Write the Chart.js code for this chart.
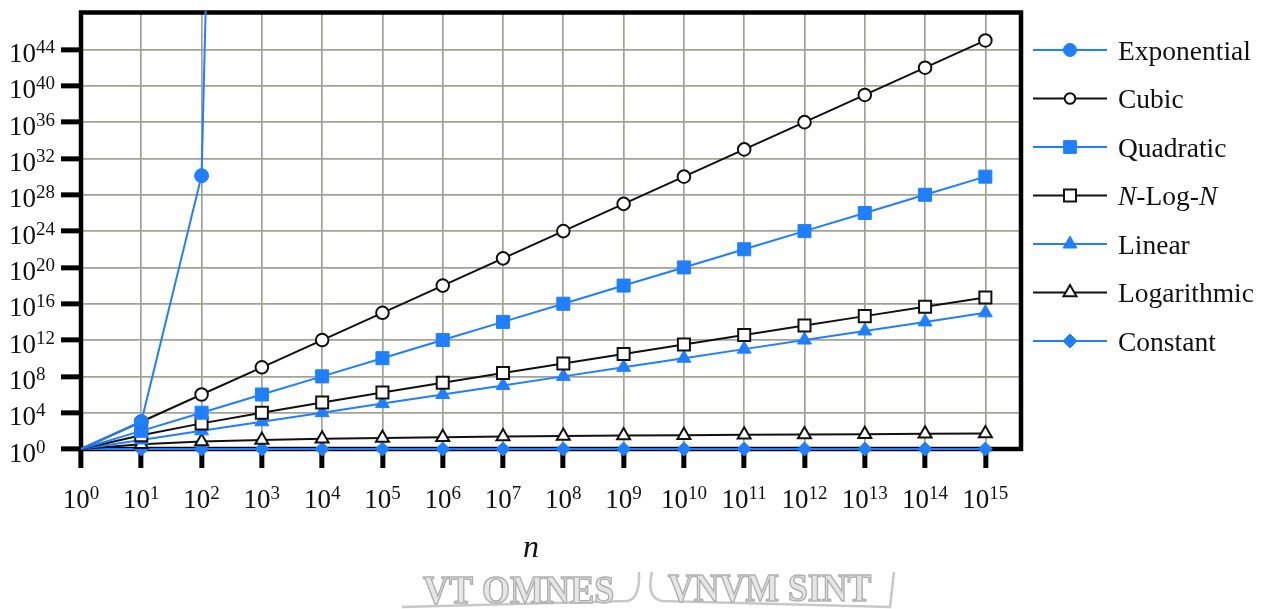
<!DOCTYPE html>
<html>
<head>
<meta charset="utf-8">
<script src="https://cdn.jsdelivr.net/npm/chart.js@4/dist/chart.umd.min.js"></script>
<style>
  html, body { margin: 0; padding: 0; background: #fff; }
  #wrap { width: 1261px; height: 609px; position: relative; }
</style>
</head>
<body>
<div id="wrap"><canvas id="growth" width="1261" height="609"></canvas></div>
<script>
// Problem sizes n (powers of ten)
const sizes = [1e0, 1e1, 1e2, 1e3, 1e4, 1e5, 1e6, 1e7, 1e8, 1e9, 1e10, 1e11, 1e12, 1e13, 1e14, 1e15];

// Operation counts for each growth class
const exponential = [1, 1024, 1.27e30, 1.07e301];
const cubic       = [1, 1e3, 1e6, 1e9, 1e12, 1e15, 1e18, 1e21, 1e24, 1e27, 1e30, 1e33, 1e36, 1e39, 1e42, 1e45];
const quadratic   = [1, 1e2, 1e4, 1e6, 1e8, 1e10, 1e12, 1e14, 1e16, 1e18, 1e20, 1e22, 1e24, 1e26, 1e28, 1e30];
const nLogN       = [1, 33.2, 664, 9966, 1.33e5, 1.66e6, 1.99e7, 2.33e8, 2.66e9, 2.99e10, 3.32e11, 3.65e12, 3.99e13, 4.32e14, 4.65e15, 4.98e16];
const linear      = [1, 1e1, 1e2, 1e3, 1e4, 1e5, 1e6, 1e7, 1e8, 1e9, 1e10, 1e11, 1e12, 1e13, 1e14, 1e15];
const logarithmic = [1, 3.32, 6.64, 9.97, 13.3, 16.6, 19.9, 23.3, 26.6, 29.9, 33.2, 36.5, 39.9, 43.2, 46.5, 49.8];
const constant    = [1, 1, 1, 1, 1, 1, 1, 1, 1, 1, 1, 1, 1, 1, 1, 1];

// Tick exponents (labels read 10^e)
const xTickExponents = [0, 1, 2, 3, 4, 5, 6, 7, 8, 9, 10, 11, 12, 13, 14, 15];
const yTickExponents = [0, 4, 8, 12, 16, 20, 24, 28, 32, 36, 40, 44];

const seriesNames = ['Exponential', 'Cubic', 'Quadratic', 'N-Log-N', 'Linear', 'Logarithmic', 'Constant'];

const BLUE = '#1f7fff';
const INK = '#111111';
const SERIF = '"Liberation Serif", "Times New Roman", serif';

function pairs(values) {
  return values.map((v, i) => ({ x: sizes[i], y: v }));
}

function series(label, values, color, style, radius, hollow, legendRadius) {
  return {
    label,
    data: pairs(values),
    borderColor: color,
    backgroundColor: color,
    borderWidth: 2,
    tension: 0,
    clip: { left: 10, top: 2, right: 10, bottom: 12 },
    pointStyle: style,
    pointRadius: c => (c.dataIndex === 0 ? 0 : radius),
    pointHoverRadius: c => (c.dataIndex === 0 ? 0 : radius),
    pointBackgroundColor: hollow ? '#ffffff' : color,
    pointBorderColor: color,
    pointBorderWidth: hollow ? 2 : 1,
    _legendRadius: legendRadius,
    _hollow: hollow
  };
}

const datasets = [
  series(seriesNames[0], exponential, BLUE, 'circle', 7, false, 6.5),
  series(seriesNames[1], cubic, INK, 'circle', 6.3, true, 5.3),
  series(seriesNames[2], quadratic, BLUE, 'rect', 9.2, false, 9),
  series(seriesNames[3], nLogN, INK, 'rect', 8.5, true, 8.5),
  series(seriesNames[4], linear, BLUE, 'triangle', 8, false, 8),
  series(seriesNames[5], logarithmic, INK, 'triangle', 7.5, true, 7.5),
  series(seriesNames[6], constant, BLUE, 'rectRot', 7, false, 7)
];

// Draws "10" with a raised exponent, centred or left-aligned at x
function drawPower(ctx, exp, x, baseline, baseSize, supSize, align) {
  ctx.save();
  ctx.fillStyle = INK;
  ctx.textBaseline = 'alphabetic';
  ctx.textAlign = 'left';
  ctx.font = baseSize + 'px ' + SERIF;
  const wb = ctx.measureText('10').width;
  ctx.font = supSize + 'px ' + SERIF;
  const ws = ctx.measureText(String(exp)).width;
  const x0 = align === 'center' ? x - (wb + ws) / 2 : x;
  ctx.font = baseSize + 'px ' + SERIF;
  ctx.fillText('10', x0, baseline);
  ctx.font = supSize + 'px ' + SERIF;
  ctx.fillText(String(exp), x0 + wb, baseline - 9);
  ctx.restore();
}

function drawMarker(ctx, ds, x, y) {
  ctx.save();
  ctx.fillStyle = ds._hollow ? '#ffffff' : ds.borderColor;
  ctx.strokeStyle = ds.borderColor;
  ctx.lineWidth = ds.pointBorderWidth;
  Chart.helpers.drawPoint(ctx, {
    pointStyle: ds.pointStyle,
    radius: ds._legendRadius,
    rotation: 0,
    borderWidth: ds.pointBorderWidth
  }, x, y);
  ctx.restore();
}

const framePlugin = {
  id: 'frame',
  beforeDatasetsDraw(chart) {
    const { ctx, chartArea: a } = chart;
    ctx.save();
    ctx.strokeStyle = '#000';
    ctx.lineWidth = 4.5;
    ctx.strokeRect(a.left, a.top, a.right - a.left, a.bottom - a.top);
    ctx.restore();
  },
  afterDraw(chart) {
    const { ctx } = chart;
    const xs = chart.scales.x, ys = chart.scales.y;

    // Tick labels
    xTickExponents.forEach(e => {
      drawPower(ctx, e, xs.getPixelForValue(Math.pow(10, e)), 508, 27, 19, 'center');
    });
    yTickExponents.forEach(e => {
      drawPower(ctx, e, 9, ys.getPixelForValue(Math.pow(10, e)) + 12.5, 27, 19, 'left');
    });

    // Axis title
    ctx.save();
    ctx.fillStyle = INK;
    ctx.font = 'italic 32px ' + SERIF;
    ctx.textAlign = 'center';
    ctx.textBaseline = 'alphabetic';
    ctx.fillText('n', 531, 557);
    ctx.restore();

    // Legend
    const lx0 = 1033, lx1 = 1107, mx = 1070, tx = 1118;
    chart.data.datasets.forEach((ds, i) => {
      const cy = 50 + i * 48.5;
      ctx.save();
      ctx.strokeStyle = ds.borderColor;
      ctx.lineWidth = 2.2;
      ctx.beginPath();
      ctx.moveTo(lx0, cy);
      ctx.lineTo(lx1, cy);
      ctx.stroke();
      ctx.restore();
      drawMarker(ctx, ds, mx, cy);

      ctx.save();
      ctx.fillStyle = INK;
      ctx.textAlign = 'left';
      ctx.textBaseline = 'alphabetic';
      const base = cy + 9.5;
      const fs = 27.5;
      if (ds.label === 'N-Log-N') {
        let x = tx;
        ctx.font = 'italic ' + fs + 'px ' + SERIF;
        ctx.fillText('N', x, base); x += ctx.measureText('N').width;
        ctx.font = fs + 'px ' + SERIF;
        ctx.fillText('-Log-', x, base); x += ctx.measureText('-Log-').width;
        ctx.font = 'italic ' + fs + 'px ' + SERIF;
        ctx.fillText('N', x, base);
      } else {
        ctx.font = fs + 'px ' + SERIF;
        ctx.fillText(ds.label, tx, base);
      }
      ctx.restore();
    });

    // Motto ribbon along the bottom edge
    ctx.save();
    ctx.strokeStyle = '#c8c8c8';
    ctx.lineWidth = 2.5;
    ctx.beginPath();
    ctx.moveTo(402, 607); ctx.lineTo(628, 601); ctx.quadraticCurveTo(640, 598, 639, 572);
    ctx.moveTo(652, 572); ctx.quadraticCurveTo(646, 598, 662, 601); ctx.lineTo(890, 607); ctx.lineTo(894, 572);
    ctx.stroke();
    ctx.beginPath();
    ctx.rect(0, 571, 1261, 40);
    ctx.clip();
    ctx.font = 'bold 34px ' + SERIF;
    ctx.textBaseline = 'alphabetic';
    ctx.textAlign = 'left';
    ctx.fillStyle = '#e6e6e6';
    ctx.strokeStyle = '#b0b0b0';
    ctx.lineWidth = 1.3;
    ctx.save();
    ctx.translate(423, 603);
    ctx.scale(1.06, 1.15);
    ctx.fillText('VT OMNES', 0, 0);
    ctx.strokeText('VT OMNES', 0, 0);
    ctx.restore();
    ctx.save();
    ctx.translate(668, 601);
    ctx.scale(1.05, 1.15);
    ctx.fillText('VNVM SINT', 0, 0);
    ctx.strokeText('VNVM SINT', 0, 0);
    ctx.restore();
    ctx.restore();
  }
};

new Chart(document.getElementById('growth'), {
  type: 'line',
  data: { datasets },
  options: {
    responsive: false,
    animation: false,
    devicePixelRatio: 1,
    layout: { padding: { top: 12.5, right: 240, left: 0, bottom: 0 } },
    plugins: { legend: { display: false }, tooltip: { enabled: false } },
    scales: {
      x: {
        type: 'logarithmic',
        position: 'bottom',
        min: 1,
        max: 3.9e15,
        border: { display: false },
        grid: { color: '#a2a296', lineWidth: 1.7, tickColor: '#000', tickWidth: 5, tickLength: 19 },
        ticks: { display: false },
        afterBuildTicks: s => { s.ticks = xTickExponents.map(e => ({ value: Math.pow(10, e) })); },
        afterFit: s => { s.height = 160; }
      },
      y: {
        type: 'logarithmic',
        position: 'left',
        min: 1,
        max: 1.2e48,
        border: { display: false },
        grid: { color: '#a2a296', lineWidth: 1.7, tickColor: '#000', tickWidth: 5, tickLength: 20 },
        ticks: { display: false },
        afterBuildTicks: s => { s.ticks = yTickExponents.map(e => ({ value: Math.pow(10, e) })); },
        afterFit: s => { s.width = 81; }
      }
    }
  },
  plugins: [framePlugin]
});
</script>
</body>
</html>
